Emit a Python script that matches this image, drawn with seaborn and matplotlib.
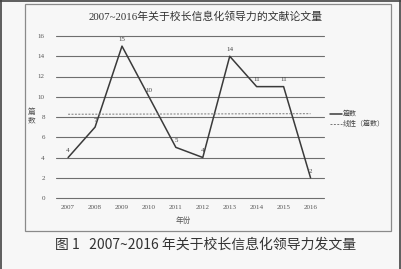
import matplotlib
matplotlib.use("Agg")
import matplotlib.pyplot as plt
import seaborn as sns
import numpy as np
import pandas as pd
from matplotlib.patches import Rectangle
from matplotlib.lines import Line2D

years = [2007, 2008, 2009, 2010, 2011, 2012, 2013, 2014, 2015, 2016]
counts = [4, 7, 15, 10, 5, 4, 14, 11, 11, 2]
yticks = [0, 2, 4, 6, 8, 10, 12, 14, 16]
title = "2007~2016年关于校长信息化领导力的文献论文量"
caption = "图 1   2007~2016 年关于校长信息化领导力发文量"
legend_labels = ["篇数", "线性（篇数）"]

sns.set_theme(style="white")
plt.rcParams['font.family'] = ['Liberation Serif', 'Noto Sans CJK SC', 'DejaVu Sans']

W, H = 402, 269
fig = plt.figure(figsize=(W / 100, H / 100), dpi=100, facecolor="#f7f7f7")

def fx(px):
    return px / W

def fy(py):
    return 1 - py / H

ax = fig.add_axes([fx(56), fy(198), fx(324) - fx(56), fy(36) - fy(198)])
ax.set_facecolor("#f7f7f7")

df = pd.DataFrame({"year": years, "count": counts})
sns.lineplot(data=df, x="year", y="count", ax=ax, color="#3a3a3a", lw=1.1)

# linear trend
coef = np.polyfit(df["year"], df["count"], 1)
trend = np.polyval(coef, df["year"])
ax.plot(df["year"], trend, color="#777777", lw=0.7, ls=(0, (2, 1.5)))

for x, y in zip(years, counts):
    ax.annotate(str(y), (x, y), xytext=(0, 3), textcoords="offset points",
                ha="center", va="bottom", fontsize=5, color="#444444")

ax.set_xlim(2006.55, 2016.5)
ax.set_ylim(0, 16)
ax.set_yticks(yticks)
ax.set_xticks(years)
ax.set_xticklabels([str(y) for y in years])
for yv in yticks:
    ax.axhline(yv, color="#6e6e6e", lw=0.8, clip_on=False, zorder=0)
for s in ax.spines.values():
    s.set_visible(False)
ax.tick_params(axis="both", length=0, labelsize=5, colors="#555555")
ax.tick_params(axis="x", pad=5)
ax.tick_params(axis="y", pad=8)
ax.set_xlabel("")
ax.set_ylabel("")

# axis labels
fig.text(fx(183), fy(221), "年份", ha="center", va="center", fontsize=5.5,
         color="#555555", family=['Noto Sans CJK SC'])
fig.text(fx(32), fy(116), "篇\n数", ha="center", va="center", fontsize=5.5,
         color="#555555", family=['Noto Sans CJK SC'], linespacing=1.0)

# title
fig.text(fx(206), fy(17), title, ha="center", va="center", fontsize=7.8,
         color="#333333")

# legend (manual)
fig.add_artist(Line2D([fx(330), fx(342)], [fy(114), fy(114)], color="#3a3a3a", lw=1.1))
fig.add_artist(Line2D([fx(330), fx(342)], [fy(124), fy(124)], color="#777777", lw=0.7,
                      ls=(0, (2, 1.5))))
fig.text(fx(343), fy(114), legend_labels[0], ha="left", va="center", fontsize=5,
         color="#444444", family=['Noto Sans CJK SC'])
fig.text(fx(343), fy(124), legend_labels[1], ha="left", va="center", fontsize=5,
         color="#444444", family=['Noto Sans CJK SC'])

# inner chart border
fig.add_artist(Rectangle((fx(25), fy(231)), fx(391) - fx(25), fy(4) - fy(231),
                         transform=fig.transFigure, fill=False, ec="#8a8a8a", lw=0.9))
# outer scan frame
fig.add_artist(Line2D([fx(1.5), fx(1.5)], [0, 1], color="#444444", lw=1.2))
fig.add_artist(Line2D([fx(400.5), fx(400.5)], [0, 1], color="#444444", lw=1.2))
fig.add_artist(Line2D([0, 1], [fy(1), fy(1)], color="#444444", lw=1.2))

# caption
fig.text(fx(206), fy(245), caption, ha="center", va="center", fontsize=10,
         color="#333333", family=['Noto Sans CJK SC'])

fig.savefig("out.png", dpi=100, facecolor=fig.get_facecolor())
